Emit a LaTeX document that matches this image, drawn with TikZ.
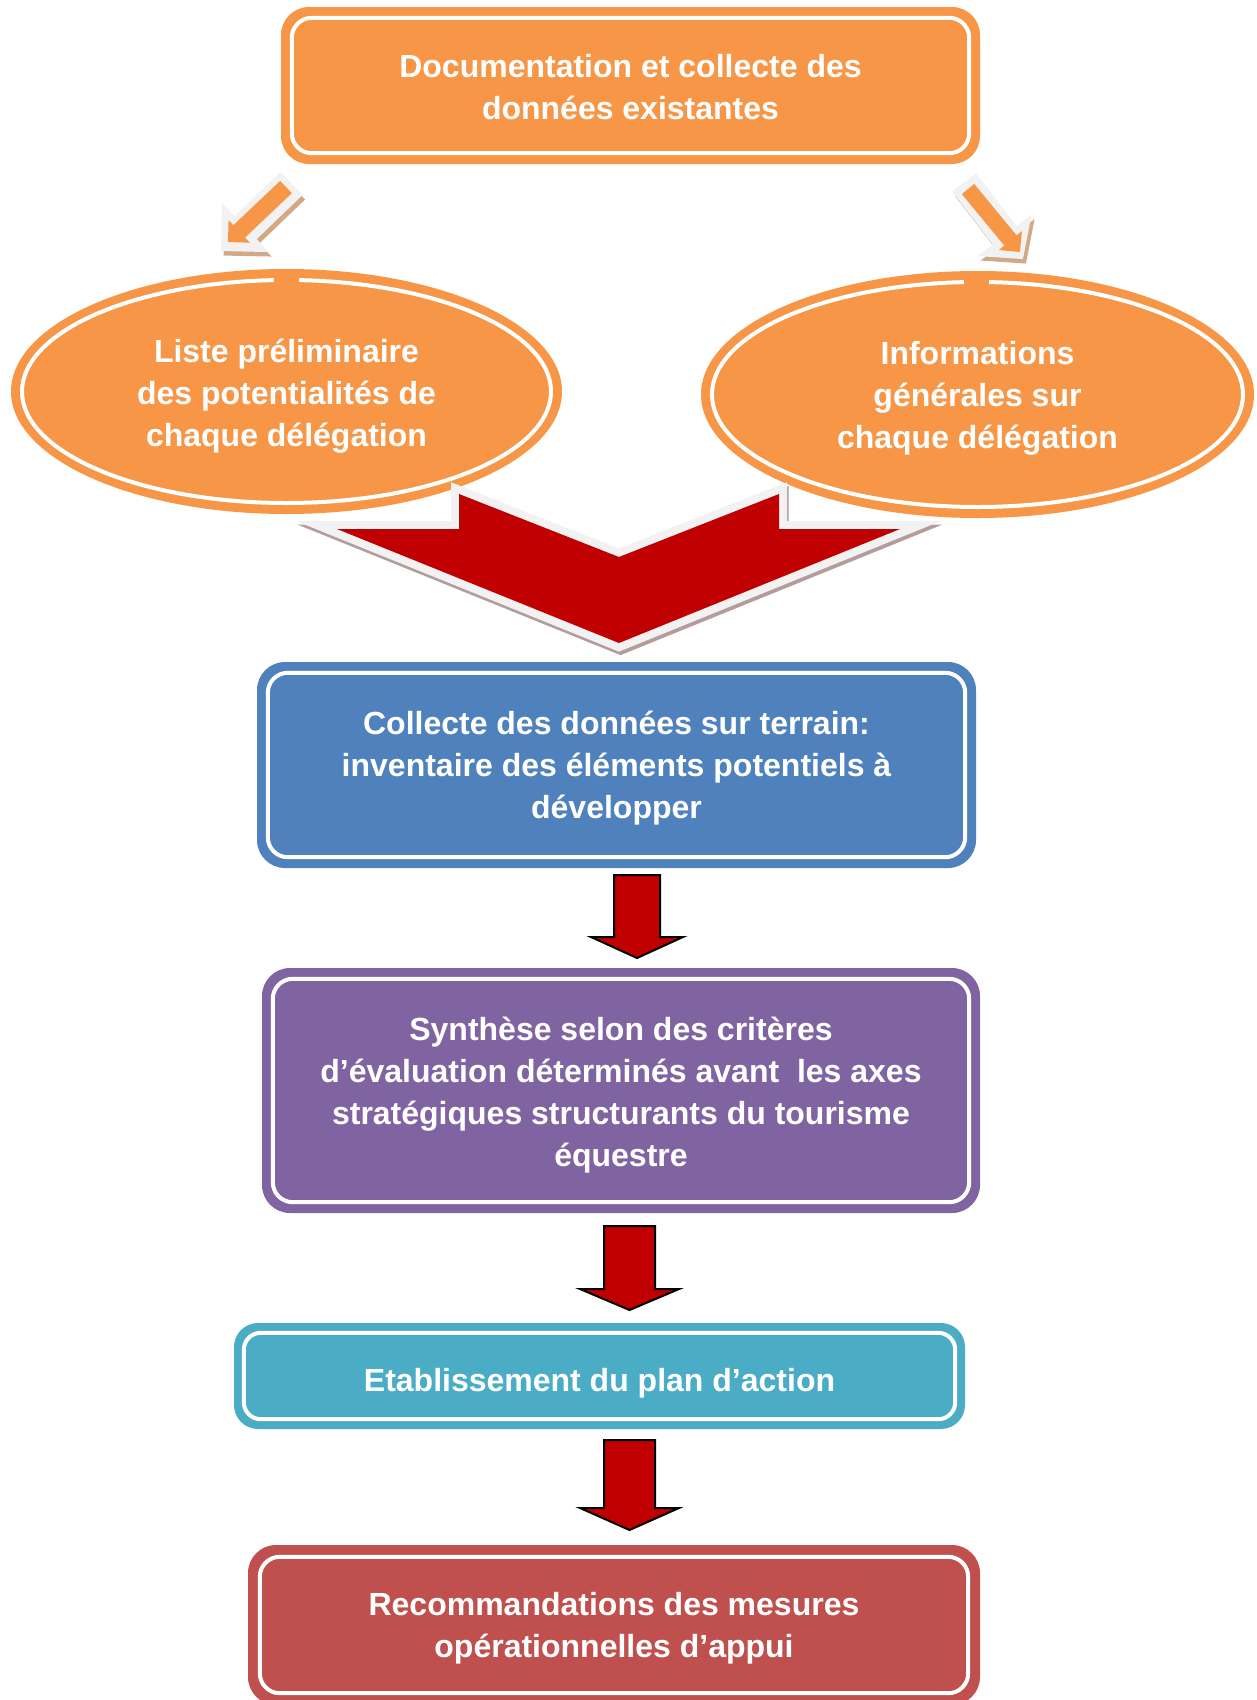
\documentclass[tikz,border=0pt]{standalone}
\usepackage{fontspec}
\setmainfont{Liberation Sans}
\usetikzlibrary{shapes.geometric}
\definecolor{orng}{HTML}{F79646}
\definecolor{bluebox}{HTML}{4F81BD}
\definecolor{purplebox}{HTML}{8064A2}
\definecolor{tealbox}{HTML}{4BACC6}
\definecolor{redbox}{HTML}{C0504D}
\definecolor{arrred}{HTML}{C00000}
\definecolor{litegray}{HTML}{F2F2F2}
\definecolor{chevshadow}{HTML}{B49C9C}
\definecolor{tanshadow}{HTML}{D1A986}
\newcommand{\diagarrow}[7]{%
  \path[#7, shift={#1}, rotate=#2] (0,#4) -- ({#3-#6},#4) -- ({#3-#6},#5) -- (#3,0)
    -- ({#3-#6},-#5) -- ({#3-#6},-#4) -- (0,-#4) -- cycle;}
\newcommand{\chevronpath}{(337,529) -- (459,529) -- (459,494) -- (619,557) -- (779,494) -- (779,529)
  -- (900,529) -- (619,643) -- cycle}
\begin{document}
\begin{tikzpicture}[x=1pt,y=-1pt,
  txt/.style={text=white, align=center, inner sep=0pt, font=\fontsize{32}{42}\selectfont\bfseries},
  box/.style={rectangle, rounded corners=28pt, inner sep=0pt},
  oval/.style={ellipse, inner sep=0pt, fill=orng},
  innerline/.style={draw=white, line width=4pt},
  chev/.style={line width=16pt, line join=miter, miter limit=10},
  downarrow/.style={fill=arrred, draw=black, line width=2pt, line join=miter, miter limit=10}
]
\useasboundingbox (0,0) rectangle (1256,1700);

% ---------- ellipses ----------
\node[oval, minimum width=551pt, minimum height=245pt] (L) at (286.5,391.5) {};
\draw[innerline] (L.center) ellipse [x radius=264.5pt, y radius=111.5pt];
\fill[orng] (274,275) rectangle (299,285);
\node[txt] (Lt) at ([yshift=-4.5pt]L.center) {Liste préliminaire\\des potentialités de\\chaque délégation};

\node[oval, minimum width=553pt, minimum height=247pt] (E) at (977.5,394.5) {};
\draw[innerline] (E.center) ellipse [x radius=265.5pt, y radius=112.5pt];
\fill[orng] (964,277) rectangle (989,287);
\node[txt] (Et) at ([yshift=-3.5pt]E.center) {Informations\\générales sur\\chaque délégation};

% ---------- big chevron ----------
\path[chev, draw=chevshadow, fill=chevshadow, shift={(1.5,3.5)}] \chevronpath;
\path[chev, draw=litegray] \chevronpath;
\path[fill=arrred] \chevronpath;

% ---------- small diagonal arrows ----------
\diagarrow{(294,188)}{223.8}{97.6}{16}{34}{34}{fill=tanshadow}
\diagarrow{(291.5,183.5)}{223.8}{97.6}{16}{34}{34}{fill=litegray}
\diagarrow{(286,187)}{223.5}{80}{8.5}{15.5}{15.5}{fill=orng}

\diagarrow{(967,187)}{-52.4}{96.6}{15}{34}{30}{fill=tanshadow}
\diagarrow{(964,182.5)}{-52.4}{96.6}{15}{34}{30}{fill=litegray}
\diagarrow{(968,189)}{-50.5}{81.7}{8}{15}{15}{fill=orng}

% ---------- boxes ----------
\node[box, fill=orng, minimum width=699pt, minimum height=157pt] (T) at (630.5,85.5) {};
\draw[innerline, rounded corners=20pt] ([shift={(11,11)}]T.north west) rectangle ([shift={(-11,-11)}]T.south east);
\node[txt] (Tt) at ([yshift=-1.5pt]T.center) {Documentation et collecte des\\données existantes};

\node[box, fill=bluebox, minimum width=719pt, minimum height=206pt] (B) at (616.5,765) {};
\draw[innerline, rounded corners=20pt] ([shift={(11,11)}]B.north west) rectangle ([shift={(-11,-11)}]B.south east);
\node[txt] (Bt) at ([yshift=-3pt]B.center) {Collecte des données sur terrain:\\inventaire des éléments potentiels à\\développer};

\node[box, fill=purplebox, minimum width=718pt, minimum height=245pt] (P) at (621,1090.5) {};
\draw[innerline, rounded corners=20pt] ([shift={(11,11)}]P.north west) rectangle ([shift={(-11,-11)}]P.south east);
\node[txt] (Pt) at ([yshift=-5pt]P.center) {Synthèse selon des critères\\d’évaluation déterminés avant\ \ les axes\\stratégiques structurants du tourisme\\équestre};

\node[box, fill=tealbox, rounded corners=24pt, minimum width=731pt, minimum height=106pt] (C) at (599.5,1376) {};
\draw[innerline, rounded corners=17pt] ([shift={(10,10)}]C.north west) rectangle ([shift={(-10,-10)}]C.south east);
\node[txt] (Ct) at ([yshift=-7.5pt]C.center) {Etablissement du plan d’action};

\node[box, fill=redbox, minimum width=732pt, minimum height=160pt] (R) at (614,1625) {};
\draw[innerline, rounded corners=20pt] ([shift={(12,12)}]R.north west) rectangle ([shift={(-12,-12)}]R.south east);
\node[txt] (Rt) at ([yshift=-3pt]R.center) {Recommandations des mesures\\opérationnelles d’appui};

% ---------- down arrows ----------
\path[downarrow] (614,875) -- (660,875) -- (660,937) -- (683,937) -- (637,958) -- (591,937) -- (614,937) -- cycle;
\path[downarrow] (604,1226) -- (655,1226) -- (655,1289) -- (679,1289) -- (629.5,1310) -- (580,1289) -- (604,1289) -- cycle;
\path[downarrow] (604,1440) -- (655,1440) -- (655,1508) -- (679,1508) -- (629.5,1530) -- (580,1508) -- (604,1508) -- cycle;
\end{tikzpicture}
\end{document}
